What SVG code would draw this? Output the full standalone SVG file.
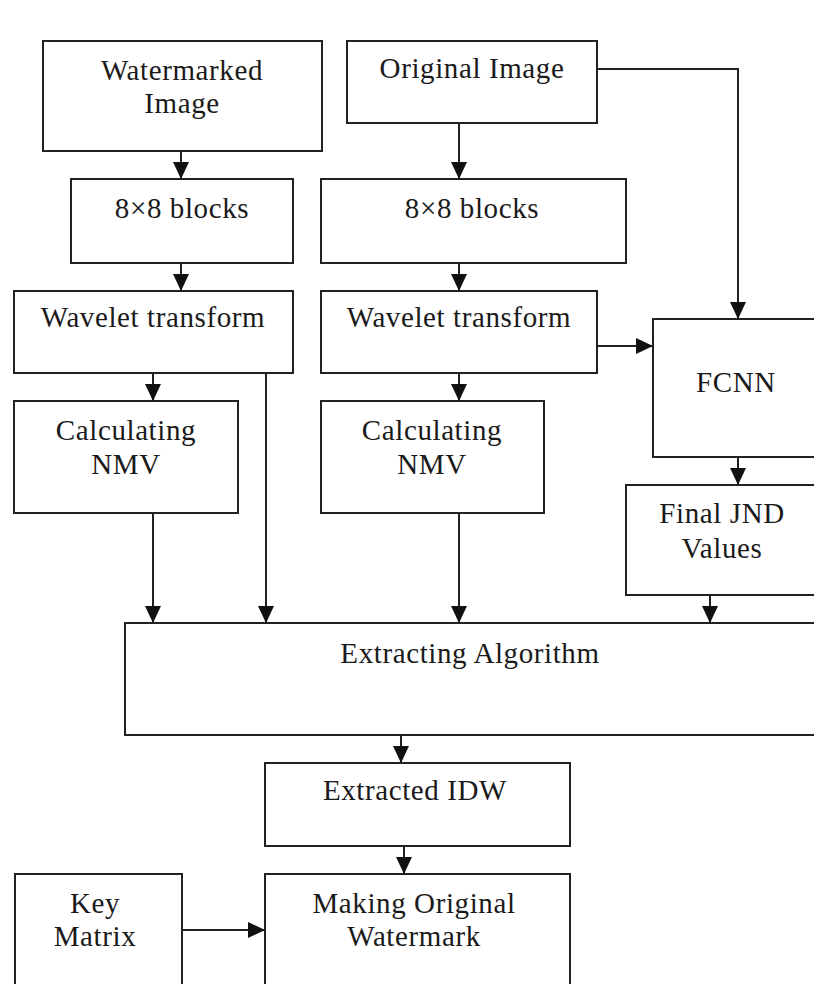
<svg xmlns="http://www.w3.org/2000/svg" width="814" height="984" viewBox="0 0 814 984">
  <style>
    .box { fill: #ffffff; stroke: #222222; stroke-width: 2; }
    .lbl { font-family: "Liberation Serif", "Times New Roman", serif; font-size: 29px; letter-spacing: 0.6px; fill: #1a1a1a; text-anchor: middle; }
    .edge { fill: none; stroke: #222222; stroke-width: 2; }
  </style>
  <defs>
    <marker id="arrow" markerUnits="userSpaceOnUse" markerWidth="17" markerHeight="17" refX="17" refY="8" orient="auto">
      <path d="M0,0 L17,8 L0,16 Z" fill="#111111"/>
    </marker>
  </defs>
  <rect width="814" height="984" fill="#ffffff"/>

  <g id="watermarked-image">
    <rect class="box" x="43" y="41" width="279" height="110"/>
    <text class="lbl" x="182" y="80">Watermarked</text>
    <text class="lbl" x="182" y="113">Image</text>
  </g>
  <g id="original-image">
    <rect class="box" x="347" y="41" width="250" height="82"/>
    <text class="lbl" x="472" y="78">Original Image</text>
  </g>
  <g id="blocks-left">
    <rect class="box" x="71" y="179" width="222" height="84"/>
    <text class="lbl" x="182" y="218">8×8 blocks</text>
  </g>
  <g id="blocks-right">
    <rect class="box" x="321" y="179" width="305" height="84"/>
    <text class="lbl" x="472" y="218">8×8 blocks</text>
  </g>
  <g id="wavelet-left">
    <rect class="box" x="14" y="291" width="279" height="82"/>
    <text class="lbl" x="153" y="327">Wavelet transform</text>
  </g>
  <g id="wavelet-right">
    <rect class="box" x="321" y="291" width="276" height="82"/>
    <text class="lbl" x="459" y="327">Wavelet transform</text>
  </g>
  <g id="fcnn">
    <rect class="box" x="653" y="319" width="180" height="138"/>
    <text class="lbl" x="736" y="392">FCNN</text>
  </g>
  <g id="nmv-left">
    <rect class="box" x="14" y="401" width="224" height="112"/>
    <text class="lbl" x="126" y="440">Calculating</text>
    <text class="lbl" x="126" y="474">NMV</text>
  </g>
  <g id="nmv-right">
    <rect class="box" x="321" y="401" width="223" height="112"/>
    <text class="lbl" x="432" y="440">Calculating</text>
    <text class="lbl" x="432" y="474">NMV</text>
  </g>
  <g id="final-jnd">
    <rect class="box" x="626" y="485" width="210" height="110"/>
    <text class="lbl" x="722" y="523">Final JND</text>
    <text class="lbl" x="722" y="558">Values</text>
  </g>
  <g id="extracting-algorithm">
    <rect class="box" x="125" y="623" width="710" height="112"/>
    <text class="lbl" x="470" y="663">Extracting Algorithm</text>
  </g>
  <g id="extracted-idw">
    <rect class="box" x="265" y="763" width="305" height="83"/>
    <text class="lbl" x="415" y="800">Extracted IDW</text>
  </g>
  <g id="key-matrix">
    <rect class="box" x="15" y="874" width="167" height="130"/>
    <text class="lbl" x="95" y="913">Key</text>
    <text class="lbl" x="95" y="946">Matrix</text>
  </g>
  <g id="making-watermark">
    <rect class="box" x="265" y="874" width="305" height="130"/>
    <text class="lbl" x="414" y="913">Making Original</text>
    <text class="lbl" x="414" y="946">Watermark</text>
  </g>

  <g id="connectors">
    <path class="edge" d="M181,151 V179" marker-end="url(#arrow)"/>
    <path class="edge" d="M181,263 V291" marker-end="url(#arrow)"/>
    <path class="edge" d="M459,123 V179" marker-end="url(#arrow)"/>
    <path class="edge" d="M459,263 V291" marker-end="url(#arrow)"/>
    <path class="edge" d="M597,69 H738 V319" marker-end="url(#arrow)"/>
    <path class="edge" d="M153,373 V401" marker-end="url(#arrow)"/>
    <path class="edge" d="M266,373 V623" marker-end="url(#arrow)"/>
    <path class="edge" d="M459,373 V401" marker-end="url(#arrow)"/>
    <path class="edge" d="M597,346 H653" marker-end="url(#arrow)"/>
    <path class="edge" d="M738,457 V485" marker-end="url(#arrow)"/>
    <path class="edge" d="M153,513 V623" marker-end="url(#arrow)"/>
    <path class="edge" d="M459,513 V623" marker-end="url(#arrow)"/>
    <path class="edge" d="M710,595 V623" marker-end="url(#arrow)"/>
    <path class="edge" d="M401,735 V763" marker-end="url(#arrow)"/>
    <path class="edge" d="M404,846 V874" marker-end="url(#arrow)"/>
    <path class="edge" d="M182,930 H265" marker-end="url(#arrow)"/>
  </g>
</svg>
